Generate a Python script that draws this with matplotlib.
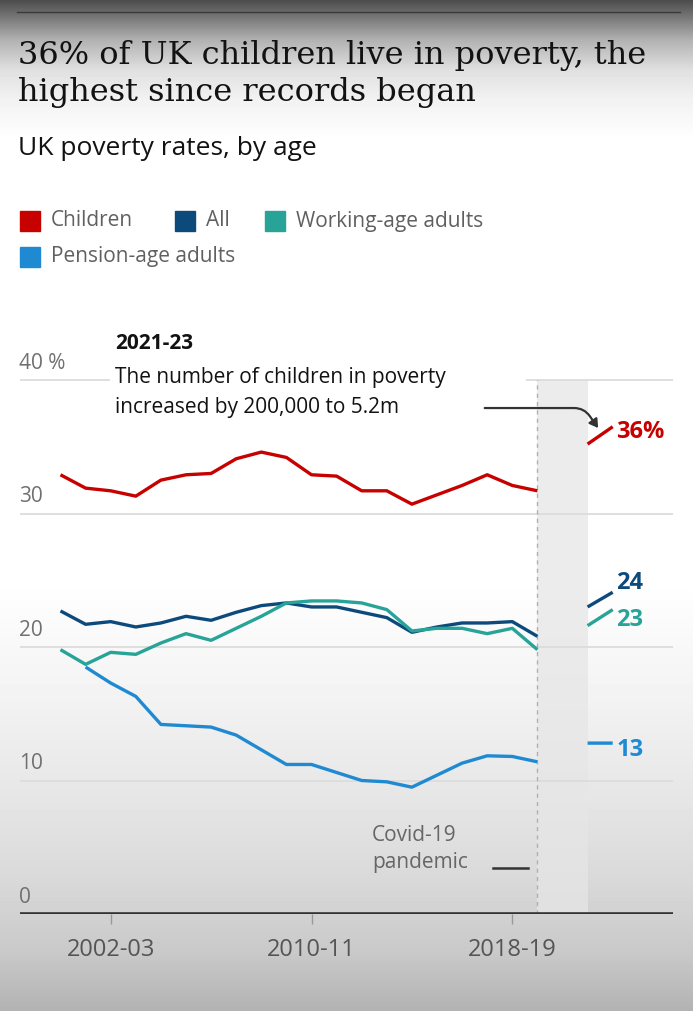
import matplotlib.pyplot as plt
import numpy as np
from matplotlib.patches import Rectangle
from matplotlib.lines import Line2D

nan = np.nan

# 3-year periods, 2020-21 missing (Covid)
years = ['2000-01', '2001-02', '2002-03', '2003-04', '2004-05', '2005-06', '2006-07',
         '2007-08', '2008-09', '2009-10', '2010-11', '2011-12', '2012-13', '2013-14',
         '2014-15', '2015-16', '2016-17', '2017-18', '2018-19', '2019-20', '2020-21',
         '2021-22', '2022-23']
children = [32.9, 31.9, 31.7, 31.3, 32.5, 32.9, 33.0, 34.1, 34.6, 34.2, 32.9, 32.8,
            31.7, 31.7, 30.7, 31.4, 32.1, 32.9, 32.1, 31.7, nan, 35.2, 36.5]
all_ages = [22.7, 21.7, 21.9, 21.5, 21.8, 22.3, 22.0, 22.6, 23.1, 23.3, 23.0, 23.0,
            22.6, 22.2, 21.1, 21.5, 21.8, 21.8, 21.9, 20.8, nan, 23.0, 24.1]
working = [19.8, 18.7, 19.6, 19.45, 20.3, 21.0, 20.5, 21.4, 22.3, 23.3, 23.45, 23.45,
           23.3, 22.8, 21.2, 21.4, 21.4, 21.0, 21.4, 19.8, nan, 21.6, 22.8]
pension = [nan, 18.5, 17.3, 16.3, 14.2, 14.1, 14.0, 13.4, 12.3, 11.2, 11.2, 10.6,
           10.0, 9.9, 9.5, 10.4, 11.3, 11.85, 11.8, 11.4, nan, 12.8, 12.8]

series_names = ['Children', 'All', 'Working-age adults', 'Pension-age adults']
series_values = [children, all_ages, working, pension]
end_labels = ['36%', '24', '23', '13']
colors = ['#c70000', '#0d4a7c', '#27a397', '#1f8ad2']

tick_labels = ['2002-03', '2010-11', '2018-19']
y_ticks = [0, 10, 20, 30, 40]
y_labels = ['0', '10', '20', '30', '40 %']

W, H = 693, 1011
fig = plt.figure(figsize=(W / 100, H / 100), dpi=100)

# screenshot-like background shading
bg = fig.add_axes([0, 0, 1, 1], zorder=-10)
py = np.arange(H)
stops_y = [0, 12, 40, 70, 100, 140, 580, 700, 800, 880, 950, 1011]
stops_v = [0.30, 0.42, 0.70, 0.88, 0.95, 1.0, 1.0, 0.95, 0.90, 0.85, 0.79, 0.70]
grad = np.interp(py, stops_y, stops_v).reshape(-1, 1)
bg.imshow(grad, aspect='auto', cmap='gray', vmin=0, vmax=1, extent=[0, 1, 0, 1])
bg.axis('off')
fig.add_artist(Line2D([17 / W, 680 / W], [1 - 12 / H, 1 - 12 / H], color='#3a3a3a', lw=1))

sans = 'Open Sans'

# titles
fig.text(18 / W, 1 - 64 / H, '36% of UK children live in poverty, the', family='DejaVu Serif',
         fontsize=23, color='#121212', va='baseline')
fig.text(18 / W, 1 - 101 / H, 'highest since records began', family='DejaVu Serif',
         fontsize=23, color='#121212', va='baseline')
fig.text(18 / W, 1 - 155 / H, 'UK poverty rates, by age', family=sans, fontsize=19,
         color='#121212', va='baseline')

# legend
leg_pos = [(20, 221), (175, 221), (265, 221), (20, 257)]
for (lx, ly), name, c in zip(leg_pos, series_names, colors):
    fig.add_artist(Rectangle((lx / W, 1 - (ly + 10) / H), 20 / W, 20 / H, color=c,
                             transform=fig.transFigure))
    fig.text((lx + 31) / W, 1 - ly / H, name, family=sans, fontsize=15, color='#606060',
             va='center')

# main axes: y=0 at px 914, 13.35 px per unit; x index 0 at px 60.5, 25.1 px per step
ax = fig.add_axes([20 / W, 1 - 914 / H, 653 / W, 584 / H])
ax.set_facecolor('none')
ax.set_ylim(0, 584 / 13.35)
ax.set_xlim((20 - 60.5) / 25.1, (673 - 60.5) / 25.1)
for s in ax.spines.values():
    s.set_visible(False)

x = np.arange(len(years))
for yt in y_ticks[1:]:
    ax.axhline(yt, color='#dcdcdc', lw=1.3, zorder=1)
ax.axhline(0, color='#333333', lw=2.6, zorder=4)
for yt, lab in zip(y_ticks, y_labels):
    ax.text(ax.get_xlim()[0] - 0.05, yt + 0.45, lab, family=sans, fontsize=15,
            color='#707070', va='bottom', ha='left')

# covid shading
ax.axvspan(19, 21, ymin=0, ymax=40 / ax.get_ylim()[1], color='#e6e6e6', alpha=0.75,
           zorder=0, lw=0)
ax.plot([19, 19], [0, 40], color='#b0b0b0', lw=1, ls=(0, (3, 3)), zorder=1)

for vals, c in zip(series_values, colors):
    ax.plot(x, vals, color=c, lw=2.4, zorder=5, solid_capstyle='butt')

# end labels
label_y = [36.1, 24.8, 22.0, 12.3]
for lab, c, ly in zip(end_labels, colors, label_y):
    ax.text(22.15, ly, lab, color=c, fontsize=17, fontweight='bold', family=sans,
            va='center', ha='left')

ax.set_xticks([years.index(t) for t in tick_labels])
ax.set_xticklabels(tick_labels, family=sans, fontsize=17, color='#555555')
ax.tick_params(axis='x', length=7, width=1, color='#999999', pad=10)
ax.set_yticks([])

# annotation block
ax.add_patch(Rectangle(((110 - 60.5) / 25.1, 36.0), (526 - 110) / 25.1, 7.0,
                       facecolor='white', edgecolor='none', zorder=2))
ax.text((115 - 60.5) / 25.1, 42.35, '2021-23', family=sans, fontsize=15, fontweight='bold',
        color='#121212', va='baseline', zorder=6)
ax.text((115 - 60.5) / 25.1, 39.8, 'The number of children in poverty', family=sans,
        fontsize=15, color='#121212', va='baseline', zorder=6)
ax.text((115 - 60.5) / 25.1, 37.55, 'increased by 200,000 to 5.2m', family=sans,
        fontsize=15, color='#121212', va='baseline', zorder=6)
ax.annotate('', xy=(21.42, 36.4), xytext=(16.9, 37.9),
            arrowprops=dict(arrowstyle='-|>,head_length=0.5,head_width=0.3', color='#333333',
                            lw=1.6, connectionstyle='angle,angleA=0,angleB=-55,rad=10',
                            shrinkA=0, shrinkB=0), zorder=6)

# covid note
ax.text(12.41, 5.9, 'Covid-19', family=sans, fontsize=15, color='#666666', va='center')
ax.text(12.41, 3.85, 'pandemic', family=sans, fontsize=15, color='#666666', va='center')
ax.plot([17.23, 18.63], [3.45, 3.45], color='#333333', lw=1.8)

fig.savefig('out.png', dpi=100)
